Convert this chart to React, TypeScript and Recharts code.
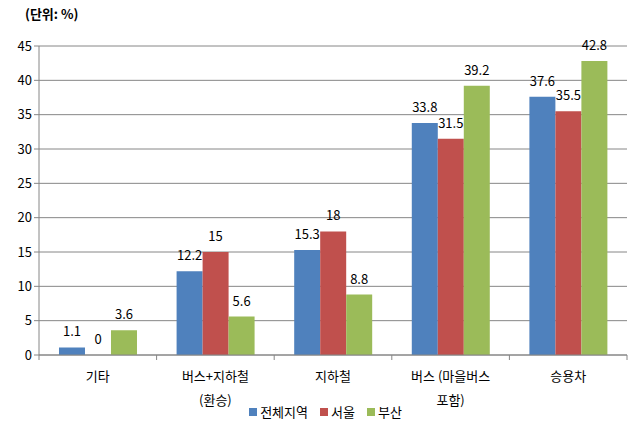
import { BarChart, Bar, XAxis, YAxis, CartesianGrid, LabelList } from 'recharts';

const categories = ['기타', '버스+지하철\n(환승)', '지하철', '버스 (마을버스\n포함)', '승용차'];
const allRegion = [1.1, 12.2, 15.3, 33.8, 37.6];
const seoul = [0, 15, 18, 31.5, 35.5];
const busan = [3.6, 5.6, 8.8, 39.2, 42.8];
const yTicks = [0, 5, 10, 15, 20, 25, 30, 35, 40, 45];

const series = [
  { key: 'all', name: '전체지역', color: '#4F81BD' },
  { key: 'seoul', name: '서울', color: '#C0504D' },
  { key: 'busan', name: '부산', color: '#9BBB59' },
];

const data = categories.map((c, i) => ({ name: c, all: allRegion[i], seoul: seoul[i], busan: busan[i] }));

const FONT = '"Noto Sans CJK KR", "Noto Sans", sans-serif';
const AXIS = '#868686';

function CategoryTick(props: any) {
  const { x, y, payload, index } = props;
  const lines = String(payload.value).split('\n');
  const half = payload.offset ?? 0;
  return (
    <g>
      <line x1={x - half} x2={x - half} y1={y - 8} y2={y - 3} stroke={AXIS} />
      {index === categories.length - 1 && <line x1={x + half} x2={x + half} y1={y - 8} y2={y - 3} stroke={AXIS} />}
      <text x={x} y={y + 18} textAnchor="middle" fontSize={13} fill="#000" fontFamily={FONT}>
        {lines.map((l, i) => (
          <tspan key={i} x={x} dy={i === 0 ? 0 : 24}>{l}</tspan>
        ))}
      </text>
    </g>
  );
}

function ValueLabel(props: any) {
  const { x, y, width, value } = props;
  if (value == null) return null;
  return (
    <text x={Number(x) + Number(width) / 2} y={Number(y) - 11} textAnchor="middle" fontSize={13} fill="#000" fontFamily={FONT}>
      {value}
    </text>
  );
}

export default function App() {
  return (
    <div style={{ position: 'absolute', left: 0, top: 0, width: 641, height: 428, background: '#fff', fontFamily: FONT }}>
      <div style={{ position: 'absolute', left: 25, top: 4, fontSize: 13, fontWeight: 'bold' }}>(단위: %)</div>
      <BarChart width={641} height={428} data={data} margin={{ top: 46, right: 14, left: 0, bottom: 0 }}
        barCategoryGap="17%" barGap={0}>
        <CartesianGrid vertical={false} stroke={AXIS} />
        <XAxis dataKey="name" height={73} tickLine={false} stroke={AXIS} interval={0} tick={<CategoryTick />} />
        <YAxis width={39} domain={[0, 45]} ticks={yTicks} stroke={AXIS} tickSize={5}
          tick={{ fill: '#000', fontSize: 13, fontFamily: FONT }} />
        {series.map((s) => (
          <Bar key={s.key} dataKey={s.key} name={s.name} fill={s.color} minPointSize={0.01} isAnimationActive={false}>
            <LabelList dataKey={s.key} content={<ValueLabel />} />
          </Bar>
        ))}
      </BarChart>
      <div style={{ position: 'absolute', left: 0, width: 641, top: 402, display: 'flex', justifyContent: 'center', fontSize: 13, paddingLeft: 22, boxSizing: 'border-box' }}>
        {series.map((s) => (
          <div key={s.key} style={{ display: 'flex', alignItems: 'center', marginRight: 12 }}>
            <span style={{ width: 8, height: 8, background: s.color, display: 'inline-block', marginRight: 3 }} />
            <span>{s.name}</span>
          </div>
        ))}
      </div>
    </div>
  );
}
